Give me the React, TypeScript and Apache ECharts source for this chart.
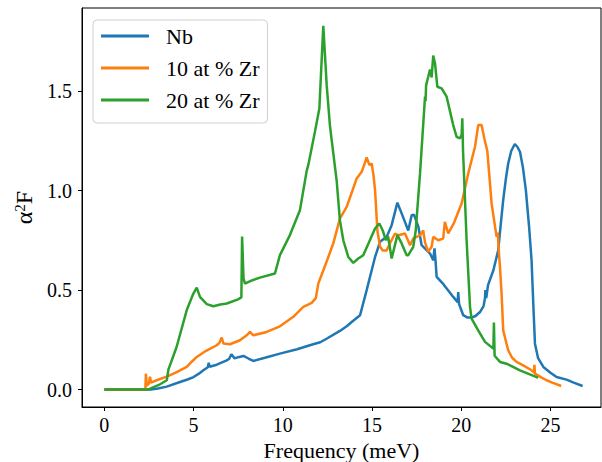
import React, { useEffect, useRef } from "react";
import * as echarts from "echarts";

const seriesNames = ["Nb", "10 at % Zr", "20 at % Zr"];
const seriesColors = ["#1f77b4", "#ff7f0e", "#2ca02c"];

const xTicks = [0, 5, 10, 15, 20, 25];
const yTicks = [0, 0.5, 1.0, 1.5];

const nbFreq = [0, 1, 2, 2.6, 3.0, 3.5, 4.24, 4.7, 5.0, 5.3, 5.55, 5.8, 5.85, 5.9, 6.3, 6.86, 7.0, 7.12, 7.3, 7.5, 7.8, 8.1, 8.35, 9.0, 9.84, 10.8, 11.7, 12.1, 12.5, 13.2, 13.6, 13.86, 14.33, 14.7, 15.17, 15.45, 15.82, 16.1, 16.42, 16.66, 17.03, 17.22, 17.35, 17.6, 17.78, 18.25, 18.43, 18.5, 18.55, 18.62, 19.0, 19.55, 19.8, 19.83, 19.88, 20.11, 20.35, 20.58, 20.8, 21.05, 21.25, 21.33, 21.35, 21.4, 21.5, 21.8, 22.07, 22.2, 22.35, 22.5, 22.63, 22.8, 23.0, 23.15, 23.29, 23.45, 23.62, 23.8, 23.94, 24.05, 24.13, 24.3, 24.6, 25.0, 25.34, 25.9, 26.3, 26.8];
const nbVal = [0, 0, 0, 0, 0.005, 0.015, 0.038, 0.052, 0.063, 0.08, 0.097, 0.112, 0.135, 0.115, 0.125, 0.147, 0.155, 0.178, 0.157, 0.163, 0.169, 0.155, 0.144, 0.16, 0.181, 0.203, 0.228, 0.238, 0.258, 0.295, 0.32, 0.34, 0.374, 0.5, 0.667, 0.743, 0.768, 0.827, 0.94, 0.886, 0.8, 0.877, 0.88, 0.818, 0.726, 0.684, 0.65, 0.71, 0.66, 0.567, 0.53, 0.466, 0.44, 0.49, 0.43, 0.374, 0.362, 0.362, 0.37, 0.39, 0.42, 0.46, 0.5, 0.46, 0.525, 0.6, 0.7, 0.82, 0.953, 1.06, 1.137, 1.2, 1.235, 1.22, 1.196, 1.12, 1.003, 0.82, 0.65, 0.4, 0.231, 0.16, 0.114, 0.085, 0.063, 0.05, 0.035, 0.018];

const zr10Freq = [0, 1, 2.3, 2.33, 2.38, 2.5, 2.56, 2.62, 2.93, 3.5, 4.0, 4.62, 4.9, 5.18, 5.7, 6.3, 6.45, 6.58, 6.67, 7.04, 7.6, 7.98, 8.16, 8.35, 9.1, 9.84, 10.59, 11.15, 11.62, 11.85, 11.99, 12.4, 12.83, 13.2, 13.58, 13.9, 14.14, 14.42, 14.6, 14.7, 14.85, 14.98, 15.08, 15.17, 15.3, 15.45, 15.6, 15.82, 16.0, 16.29, 16.48, 16.85, 17.13, 17.31, 17.69, 17.87, 17.97, 18.15, 18.34, 18.43, 18.71, 18.99, 19.08, 19.27, 19.6, 20.02, 20.39, 20.77, 20.95, 21.14, 21.3, 21.46, 21.7, 21.98, 22.05, 22.1, 22.17, 22.26, 22.35, 22.63, 22.85, 23.1, 23.47, 23.94, 24.08, 24.1, 24.13, 24.5, 24.78, 25.1, 25.6];
const zr10Val = [0, 0, 0, 0.08, 0.02, 0.03, 0.065, 0.035, 0.047, 0.065, 0.085, 0.114, 0.14, 0.164, 0.195, 0.223, 0.235, 0.262, 0.232, 0.228, 0.248, 0.273, 0.29, 0.273, 0.29, 0.318, 0.366, 0.416, 0.436, 0.46, 0.533, 0.63, 0.735, 0.86, 0.919, 1.0, 1.062, 1.095, 1.14, 1.168, 1.13, 1.137, 1.08, 1.003, 0.8, 0.718, 0.7, 0.7, 0.735, 0.785, 0.776, 0.785, 0.726, 0.76, 0.776, 0.8, 0.74, 0.693, 0.718, 0.768, 0.751, 0.76, 0.843, 0.785, 0.84, 0.936, 1.087, 1.221, 1.33, 1.33, 1.26, 1.2, 0.936, 0.768, 0.79, 0.7, 0.617, 0.483, 0.298, 0.198, 0.16, 0.139, 0.122, 0.097, 0.085, 0.125, 0.08, 0.06, 0.047, 0.035, 0.018];

const zr20Freq = [0, 1, 2.5, 2.56, 3.03, 3.5, 3.59, 4.05, 4.62, 4.99, 5.18, 5.36, 5.74, 6.11, 6.5, 6.86, 7.5, 7.68, 7.72, 7.8, 7.88, 8.3, 8.72, 9.56, 9.84, 10.4, 10.96, 11.34, 11.43, 11.8, 12.05, 12.27, 12.46, 12.64, 12.74, 13.02, 13.2, 13.39, 13.67, 13.95, 14.23, 14.51, 14.88, 15.17, 15.41, 15.6, 15.78, 15.9, 16.1, 16.42, 16.66, 16.94, 17.03, 17.31, 17.45, 17.69, 17.97, 18.0, 18.03, 18.15, 18.25, 18.34, 18.43, 18.53, 18.66, 18.9, 19.18, 19.55, 19.74, 19.92, 20.02, 20.06, 20.1, 20.15, 20.3, 20.49, 20.58, 20.95, 21.33, 21.8, 21.83, 21.87, 22.17, 22.54, 23.29, 24.22, 24.3];
const zr20Val = [0, 0, 0, 0.005, 0.022, 0.047, 0.1, 0.214, 0.4, 0.483, 0.513, 0.466, 0.43, 0.419, 0.428, 0.433, 0.454, 0.464, 0.77, 0.56, 0.533, 0.55, 0.563, 0.584, 0.676, 0.777, 0.902, 1.1, 1.13, 1.296, 1.414, 1.83, 1.531, 1.33, 1.255, 1.05, 0.852, 0.751, 0.667, 0.637, 0.659, 0.676, 0.751, 0.81, 0.835, 0.8, 0.751, 0.77, 0.659, 0.777, 0.735, 0.676, 0.676, 0.718, 0.8, 1.087, 1.473, 1.45, 1.53, 1.573, 1.61, 1.57, 1.68, 1.64, 1.523, 1.515, 1.473, 1.33, 1.271, 1.263, 1.28, 1.364, 1.2, 1.087, 0.751, 0.416, 0.357, 0.298, 0.24, 0.206, 0.337, 0.17, 0.139, 0.13, 0.097, 0.063, 0.058];

const FONT = "Liberation Serif";

function zip(xs: number[], ys: number[]) {
  return xs.map((x, i) => [x, ys[i]]);
}

export default function App() {
  const ref = useRef<HTMLDivElement>(null);
  useEffect(() => {
    const chart = echarts.init(ref.current!, null, { renderer: "svg" });
    const datasets = [zip(nbFreq, nbVal), zip(zr10Freq, zr10Val), zip(zr20Freq, zr20Val)];
    chart.setOption({
      animation: false,
      backgroundColor: "#ffffff",
      textStyle: { fontFamily: FONT },
      grid: {
        left: 82,
        top: 8,
        right: 1,
        bottom: 55,
        outerBoundsMode: "none",
        containLabel: false,
        show: true,
        borderColor: "#000",
        borderWidth: 1,
        backgroundColor: "transparent",
      },
      legend: {
        orient: "vertical",
        left: 93,
        top: 20,
        icon: "rect",
        itemWidth: 48,
        itemHeight: 3,
        itemGap: 10,
        padding: [5, 8, 12, 8],
        borderColor: "#d0d0d0",
        borderWidth: 1,
        borderRadius: 4,
        backgroundColor: "rgba(255,255,255,0.8)",
        textStyle: { fontFamily: FONT, fontSize: 22, color: "#000", padding: [0, 0, 0, 12], lineHeight: 22 },
        data: seriesNames,
      },
      xAxis: {
        type: "value",
        min: -1.25,
        max: 27.83,
        name: "Frequency (meV)",
        nameLocation: "middle",
        nameGap: 32,
        nameTextStyle: { fontFamily: FONT, fontSize: 22, color: "#000" },
        axisLine: { show: true, onZero: false, lineStyle: { color: "#000", width: 1 } },
        axisTick: { show: true, inside: false, length: 4, customValues: xTicks, lineStyle: { color: "#000" } },
        axisLabel: {
          customValues: xTicks,
          margin: 8,
          fontFamily: FONT,
          fontSize: 20,
          color: "#000",
          formatter: (v: number) => String(v),
        },
        splitLine: { show: false },
      },
      yAxis: {
        type: "value",
        min: -0.0876,
        max: 1.919,
        name: "{a|α}{s|2}{a|F}",
        nameLocation: "middle",
        nameRotate: 90,
        nameGap: 45,
        nameTextStyle: {
          fontFamily: FONT,
          color: "#000",
          rich: {
            a: { fontFamily: FONT, fontSize: 24, color: "#000" },
            s: { fontFamily: FONT, fontSize: 15, color: "#000", verticalAlign: "top" },
          },
        },
        axisLine: { show: true, onZero: false, lineStyle: { color: "#000", width: 1 } },
        axisTick: { show: true, inside: false, length: 4, customValues: yTicks, lineStyle: { color: "#000" } },
        axisLabel: {
          customValues: yTicks,
          margin: 10,
          fontFamily: FONT,
          fontSize: 20,
          color: "#000",
          formatter: (v: number) => v.toFixed(1),
        },
        splitLine: { show: false },
      },
      series: seriesNames.map((name, i) => ({
        name,
        type: "line",
        data: datasets[i],
        symbol: "none",
        showSymbol: false,
        smooth: false,
        lineStyle: { color: seriesColors[i], width: 2.5 },
        itemStyle: { color: seriesColors[i] },
        z: 2 + i,
      })),
    });
    return () => chart.dispose();
  }, []);
  return <div ref={ref} style={{ position: "fixed", left: 0, top: 0, width: 602, height: 462 }} />;
}
